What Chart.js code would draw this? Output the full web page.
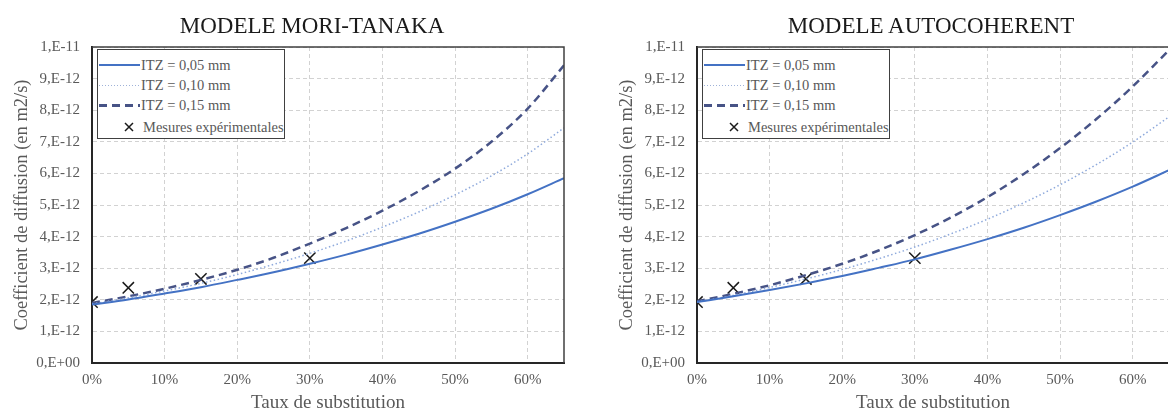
<!DOCTYPE html>
<html>
<head>
<meta charset="utf-8">
<script src="https://cdn.jsdelivr.net/npm/chart.js@4.4.1/dist/chart.umd.min.js"></script>
<style>
  body { margin: 0; width: 1168px; height: 414px; overflow: hidden; background: #fff; position: relative; font-family: 'Liberation Serif', serif; }
  .panel { position: absolute; top: 0; width: 600px; height: 414px; }
  .panel canvas { position: absolute; left: 0; top: 0; }
  .title { position: absolute; top: 14px; transform: translateX(-50%); white-space: nowrap; font-size: 23px; line-height: 23px; color: #1a1a1a; }
  .legend { position: absolute; left: 97px; top: 49px; width: 188px; height: 90px; box-sizing: border-box; border: 1.5px solid #404040; background: #fff; }
  .row { position: absolute; left: 0; height: 20px; width: 186px; font-size: 14.5px; line-height: 20px; color: #595959; }
  .row span { position: absolute; left: 43px; top: 0; white-space: nowrap; }
  .sample { position: absolute; left: 1px; width: 41px; }
  .s1 { top: 9px; height: 2px; background: #4472C4; }
  .s2 { top: 10px; height: 1px; background: repeating-linear-gradient(90deg, #9fb2d8 0 1px, transparent 1px 3px); }
  .s3 { top: 9px; height: 2.5px; background: repeating-linear-gradient(90deg, #475386 0 8px, transparent 8px 13px); }
  .row svg { position: absolute; left: 26px; top: 5px; }
</style>
</head>
<body>
<div class="panel" style="left:0">
  <canvas id="mt" width="600" height="414"></canvas>
  <div class="title" style="left:312px">MODELE MORI-TANAKA</div>
  <div class="legend">
    <div class="row" style="top:5px"><div class="sample s1"></div><span>ITZ = 0,05 mm</span></div>
    <div class="row" style="top:25px"><div class="sample s2"></div><span>ITZ = 0,10 mm</span></div>
    <div class="row" style="top:45px"><div class="sample s3"></div><span>ITZ = 0,15 mm</span></div>
    <div class="row" style="top:67px"><svg width="10" height="10"><path d="M1 1L9 9M9 1L1 9" stroke="#1a1a1a" stroke-width="1.5"/></svg><span style="left:45px">Mesures expérimentales</span></div>
  </div>
</div>
<div class="panel" style="left:605px">
  <canvas id="ac" width="600" height="414"></canvas>
  <div class="title" style="left:326px">MODELE AUTOCOHERENT</div>
  <div class="legend">
    <div class="row" style="top:5px"><div class="sample s1"></div><span>ITZ = 0,05 mm</span></div>
    <div class="row" style="top:25px"><div class="sample s2"></div><span>ITZ = 0,10 mm</span></div>
    <div class="row" style="top:45px"><div class="sample s3"></div><span>ITZ = 0,15 mm</span></div>
    <div class="row" style="top:67px"><svg width="10" height="10"><path d="M1 1L9 9M9 1L1 9" stroke="#1a1a1a" stroke-width="1.5"/></svg><span style="left:45px">Mesures expérimentales</span></div>
  </div>
</div>
<script>
// substitution rate (fraction) and diffusion coefficient in units of 1E-12 m2/s
const xValues = [0, 0.05, 0.10, 0.15, 0.20, 0.25, 0.30, 0.35, 0.40, 0.45, 0.50, 0.55, 0.60, 0.65];

// Mori-Tanaka model
const mtItz005 = [1.85, 2.01, 2.20, 2.40, 2.63, 2.87, 3.14, 3.43, 3.75, 4.09, 4.47, 4.88, 5.34, 5.85];
const mtItz010 = [1.87, 2.06, 2.28, 2.52, 2.80, 3.12, 3.47, 3.86, 4.30, 4.78, 5.32, 5.92, 6.62, 7.44];
const mtItz015 = [1.90, 2.11, 2.35, 2.63, 2.95, 3.33, 3.78, 4.27, 4.82, 5.44, 6.15, 7.00, 8.05, 9.42];

// self-consistent model
const acItz005 = [1.93, 2.11, 2.31, 2.52, 2.75, 3.01, 3.28, 3.59, 3.92, 4.28, 4.68, 5.11, 5.58, 6.10];
const acItz010 = [1.93, 2.14, 2.39, 2.66, 2.96, 3.30, 3.67, 4.09, 4.55, 5.07, 5.64, 6.28, 6.99, 7.79];
const acItz015 = [1.95, 2.19, 2.46, 2.78, 3.14, 3.56, 4.05, 4.61, 5.25, 5.98, 6.80, 7.72, 8.75, 9.90];

// experimental measurements
const measureX = [0, 0.05, 0.15, 0.30];
const measureY = [1.93, 2.38, 2.66, 3.32];

const seriesNames = ['ITZ = 0,05 mm', 'ITZ = 0,10 mm', 'ITZ = 0,15 mm', 'Mesures expérimentales'];
const xTickValues = [0, 0.1, 0.2, 0.3, 0.4, 0.5, 0.6];
const xTickLabels = ['0%', '10%', '20%', '30%', '40%', '50%', '60%'];
const yTickValues = [0, 1, 2, 3, 4, 5, 6, 7, 8, 9, 10];
const yTickLabels = ['0,E+00', '1,E-12', '2,E-12', '3,E-12', '4,E-12', '5,E-12', '6,E-12', '7,E-12', '8,E-12', '9,E-12', '1,E-11'];

const serif = 'Liberation Serif';
const toPts = (xs, ys) => xs.map((x, i) => ({ x: x, y: ys[i] }));

const framePlugin = {
  id: 'frame',
  afterDatasetsDraw(chart) {
    const a = chart.chartArea, ctx = chart.ctx;
    ctx.save();
    ctx.strokeStyle = '#404040';
    ctx.lineWidth = 1.5;
    ctx.beginPath();
    ctx.moveTo(a.left, a.top);
    ctx.lineTo(a.right, a.top);
    ctx.lineTo(a.right, a.bottom);
    ctx.stroke();
    ctx.restore();
  }
};

function makeChart(id, s1, s2, s3) {
  new Chart(document.getElementById(id), {
    type: 'line',
    data: {
      datasets: [
        { label: seriesNames[0], data: toPts(xValues, s1), borderColor: '#4472C4', borderWidth: 2, pointRadius: 0, cubicInterpolationMode: 'monotone' },
        { label: seriesNames[1], data: toPts(xValues, s2), borderColor: '#8FAADC', borderWidth: 1.5, borderDash: [1.5, 2.5], pointRadius: 0, cubicInterpolationMode: 'monotone' },
        { label: seriesNames[2], data: toPts(xValues, s3), borderColor: '#475386', borderWidth: 2.5, borderDash: [8, 5], pointRadius: 0, cubicInterpolationMode: 'monotone' },
        { label: seriesNames[3], data: toPts(measureX, measureY), showLine: false, pointStyle: 'crossRot', pointRadius: 8, pointBorderWidth: 1.5, borderColor: '#1a1a1a', backgroundColor: '#1a1a1a' }
      ]
    },
    options: {
      responsive: false,
      animation: false,
      layout: { padding: { top: 47, right: 36, left: 0, bottom: 0 } },
      plugins: { legend: { display: false }, tooltip: { enabled: false } },
      scales: {
        x: {
          type: 'linear', min: 0, max: 0.65,
          afterBuildTicks: s => { s.ticks = xTickValues.map(v => ({ value: v })); },
          afterFit: s => { s.height = 51; },
          ticks: { callback: (v, i) => xTickLabels[i], color: '#595959', font: { family: serif, size: 15 }, padding: 8, maxRotation: 0 },
          grid: { color: '#d2d2d2', lineWidth: 1, drawTicks: false },
          border: { display: true, color: '#262626', width: 2, dash: [4, 3] },
          title: { display: true, text: 'Taux de substitution', color: '#595959', font: { family: serif, size: 19 }, padding: { top: 0, bottom: 0 } }
        },
        y: {
          min: 0, max: 10,
          afterBuildTicks: s => { s.ticks = yTickValues.map(v => ({ value: v })); },
          afterFit: s => { s.width = 92; },
          ticks: { callback: (v, i) => yTickLabels[i], color: '#595959', font: { family: serif, size: 15 }, padding: 12 },
          grid: { color: '#d2d2d2', lineWidth: 1, drawTicks: false },
          border: { display: true, color: '#262626', width: 2, dash: [4, 3] },
          title: { display: true, text: 'Coefficient de diffusion (en m2/s)', color: '#595959', font: { family: serif, size: 18.5 }, padding: { top: 11, bottom: 0 } }
        }
      }
    },
    plugins: [framePlugin]
  });
}

makeChart('mt', mtItz005, mtItz010, mtItz015);
makeChart('ac', acItz005, acItz010, acItz015);
</script>
</body>
</html>
